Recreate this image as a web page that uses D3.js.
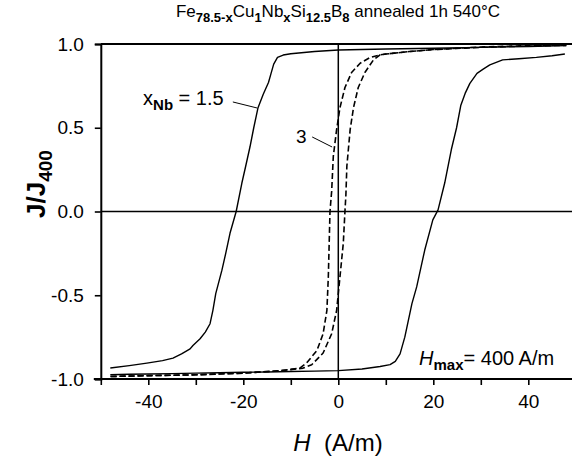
<!DOCTYPE html>
<html>
<head>
<meta charset="utf-8">
<script src="https://cdn.jsdelivr.net/npm/d3@7"></script>
<style>
  body { margin: 0; background: #fff; }
  text { font-family: "Liberation Sans", Arial, sans-serif; fill: #000; }
</style>
</head>
<body>
<div id="chart"></div>
<script>
// x_Nb = 1.5, branch going from +H to -H
var hDown15 = [48, 40, 30, 20, 10, 0, -5, -10, -11.6, -12.8, -13.6, -14.2, -14.7, -15.8, -16.9, -17.8, -18.6, -19.5, -20.3, -21.5, -22.8, -23.7, -24.5, -25.8, -26.4, -27, -28, -29.1, -30.6, -31.2, -33, -34.8, -37, -40.3, -44, -48];
var jDown15 = [0.99, 0.985, 0.98, 0.975, 0.97, 0.964, 0.955, 0.942, 0.934, 0.92, 0.88, 0.82, 0.77, 0.70, 0.62, 0.50, 0.385, 0.27, 0.17, 0.0, -0.13, -0.25, -0.35, -0.49, -0.59, -0.67, -0.72, -0.76, -0.80, -0.82, -0.85, -0.875, -0.89, -0.905, -0.92, -0.934];
// x_Nb = 1.5, branch going from -H to +H
var hUp15 = [-48, -44, -40, -35, -30, -25, -20, -15, -10, -5, 0, 5, 8.8, 10.9, 12, 13, 14, 15.5, 16.5, 18.2, 19.9, 21, 22.4, 23.8, 24.9, 25.8, 26.7, 27.7, 29.2, 30.5, 31.9, 34.6, 38, 41.7, 45, 47.7];
var jUp15 = [-0.975, -0.972, -0.97, -0.968, -0.965, -0.963, -0.96, -0.958, -0.955, -0.953, -0.95, -0.94, -0.925, -0.914, -0.895, -0.85, -0.75, -0.55, -0.45, -0.23, -0.05, 0.01, 0.17, 0.37, 0.5, 0.635, 0.705, 0.765, 0.825, 0.85, 0.875, 0.905, 0.912, 0.92, 0.93, 0.94];
// x_Nb = 3, branch going from +H to -H
var hDown3 = [48, 40, 30, 20, 15, 10, 8.8, 6.7, 4.6, 2.8, 1.4, 0.35, -0.35, -1.05, -1.4, -1.75, -2.1, -2.4, -3.2, -4.5, -6.7, -8.1, -12, -20, -30, -40, -48];
var jDown3 = [0.995, 0.99, 0.982, 0.967, 0.955, 0.94, 0.935, 0.92, 0.885, 0.83, 0.74, 0.62, 0.49, 0.33, 0.12, 0.0, -0.39, -0.59, -0.73, -0.83, -0.905, -0.935, -0.95, -0.965, -0.975, -0.98, -0.985];
// x_Nb = 3, branch going from -H to +H
var hUp3 = [-48, -40, -30, -20, -12, -7.4, -5.6, -3.2, -1.4, -0.35, 0.35, 1.05, 1.4, 1.6, 1.8, 2.5, 3.2, 4.2, 5.6, 7.4, 8.8, 10, 15, 20, 30, 40, 48];
var jUp3 = [-0.985, -0.98, -0.975, -0.965, -0.95, -0.935, -0.915, -0.845, -0.73, -0.59, -0.39, -0.19, 0.0, 0.1, 0.27, 0.49, 0.62, 0.74, 0.83, 0.905, 0.935, 0.94, 0.955, 0.967, 0.98, 0.988, 0.992];

var xTicks = [-50, -40, -30, -20, -10, 0, 10, 20, 30, 40, 50];
var xTickLabels = [-40, -20, 0, 20, 40];
var yTicks = [-1.0, -0.5, 0.0, 0.5, 1.0];

function init() {
    var w = 572, h = 458;
    var svg = d3.select("#chart").append("svg")
        .attr("width", w).attr("height", h);

    var x = d3.scaleLinear().domain([-50, 50]).range([100.8, 575.8]);
    var y = d3.scaleLinear().domain([-1, 1]).range([379, 44]);

    svg.append("clipPath").attr("id", "plot")
        .append("rect").attr("x", 100).attr("y", 40).attr("width", w - 100).attr("height", 342);

    // zero lines
    svg.append("line").attr("x1", x(0)).attr("x2", x(0)).attr("y1", y(1)).attr("y2", y(-1))
        .attr("stroke", "#000").attr("stroke-width", 1.5);
    svg.append("line").attr("x1", x(-50)).attr("x2", w).attr("y1", y(0)).attr("y2", y(0))
        .attr("stroke", "#000").attr("stroke-width", 1.5);

    // curves
    var line = d3.line()
        .x(function(d) { return x(d[0]); })
        .y(function(d) { return y(d[1]); });
    var curves = [
        [hDown15, jDown15, null],
        [hUp15, jUp15, null],
        [hDown3, jDown3, "6,3"],
        [hUp3, jUp3, "6,3"]
    ];
    curves.forEach(function(c) {
        var pts = c[0].map(function(v, i) { return [v, c[1][i]]; });
        svg.append("path")
            .attr("d", line(pts))
            .attr("clip-path", "url(#plot)")
            .attr("fill", "none")
            .attr("stroke", "#000")
            .attr("stroke-width", c[2] ? 1.6 : 1.4)
            .attr("stroke-linejoin", "round")
            .attr("stroke-dasharray", c[2]);
    });

    // frame: top line, left axis, bottom axis
    svg.append("line").attr("x1", x(-50)).attr("x2", w).attr("y1", y(1)).attr("y2", y(1))
        .attr("stroke", "#000").attr("stroke-width", 2.2);

    var yAxis = d3.axisLeft(y).tickValues(yTicks).tickSize(6).tickPadding(11)
        .tickFormat(d3.format(".1f"));
    var gy = svg.append("g").attr("transform", "translate(" + x(-50) + ",0)").call(yAxis);
    gy.select(".domain").attr("stroke-width", 2);
    gy.selectAll(".tick line").attr("stroke-width", 1.6);
    gy.selectAll("text").style("font-size", "19px")
        .style("font-family", "'Liberation Sans', Arial, sans-serif")
        .text(function(d) { return d3.format(".1f")(d).replace("−", "-"); });

    var xAxis = d3.axisBottom(x).tickValues(xTicks).tickSize(6).tickPadding(10)
        .tickFormat(function(d) { return xTickLabels.indexOf(d) >= 0 ? d : ""; });
    var gx = svg.append("g").attr("transform", "translate(0," + y(-1) + ")").call(xAxis);
    gx.select(".domain").remove();
    gx.append("line").attr("x1", x(-50) - 7).attr("x2", w).attr("y1", 0).attr("y2", 0)
        .attr("stroke", "#000").attr("stroke-width", 2.2);
    gx.selectAll(".tick line").attr("stroke-width", 1.6);
    gx.selectAll("text").style("font-size", "19px")
        .style("font-family", "'Liberation Sans', Arial, sans-serif")
        .text(function(d) { return xTickLabels.indexOf(d) >= 0 ? String(d) : ""; });

    // title
    var t = svg.append("text").attr("x", 338).attr("y", 17)
        .attr("text-anchor", "middle").style("font-size", "17px");
    var parts = [["Fe", 0], ["78.5-x", 1], ["Cu", 0], ["1", 1], ["Nb", 0], ["x", 1],
                 ["Si", 0], ["12.5", 1], ["B", 0], ["8", 1], [" annealed 1h 540°C", 0]];
    var prevSub = 0;
    parts.forEach(function(p) {
        var ts = t.append("tspan").text(p[0]);
        if (p[1] && !prevSub) ts.attr("dy", 5);
        if (!p[1] && prevSub) ts.attr("dy", -5);
        if (p[1]) ts.style("font-size", "13px").style("font-weight", "bold");
        prevSub = p[1];
    });

    // axis titles
    var yl = svg.append("text")
        .attr("transform", "translate(45,184) rotate(-90)")
        .attr("text-anchor", "middle")
        .style("font-size", "26px").style("font-weight", "bold");
    yl.append("tspan").text("J/J");
    yl.append("tspan").text("400").attr("dy", 7).style("font-size", "19px");

    var xl = svg.append("text").attr("x", 338).attr("y", 451)
        .attr("text-anchor", "middle").style("font-size", "24px");
    xl.append("tspan").text("H").style("font-style", "italic");
    xl.append("tspan").text("\u00a0\u00a0(A/m)");

    // annotations
    var a1 = svg.append("text").attr("x", x(-41.1)).attr("y", y(0.636)).style("font-size", "20px");
    a1.append("tspan").text("x");
    a1.append("tspan").text("Nb").attr("dy", 5).style("font-size", "15px").style("font-weight", "bold");
    a1.append("tspan").text(" = 1.5").attr("dy", -5);
    svg.append("line").attr("x1", x(-22.2)).attr("y1", y(0.654)).attr("x2", x(-17.1)).attr("y2", y(0.618))
        .attr("stroke", "#000").attr("stroke-width", 1);

    svg.append("text").attr("x", x(-8.9)).attr("y", y(0.409)).style("font-size", "19px").text("3");
    svg.append("line").attr("x1", x(-5.5)).attr("y1", y(0.445)).attr("x2", x(-1.3)).attr("y2", y(0.385))
        .attr("stroke", "#000").attr("stroke-width", 1);

    var a3 = svg.append("text").attr("x", x(17.0)).attr("y", y(-0.916)).style("font-size", "20px");
    a3.append("tspan").text("H").style("font-style", "italic");
    a3.append("tspan").text("max").attr("dy", 5).style("font-size", "15px").style("font-weight", "bold");
    a3.append("tspan").text("= 400 A/m").attr("dy", -5);
}
window.onload = init;
</script>
</body>
</html>
